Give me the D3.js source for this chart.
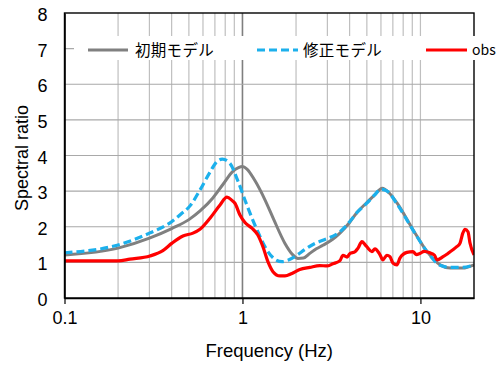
<!DOCTYPE html>
<html>
<head>
<meta charset="utf-8">
<script src="https://cdn.jsdelivr.net/npm/d3@7"></script>
<style>
  html, body { margin: 0; padding: 0; background: #fff; }
  svg { display: block; }
</style>
</head>
<body>
<svg id="chart" width="500" height="365"></svg>
<script>
// Spectral ratio vs frequency: initial model, revised model and observation
const xTickValues = [0.1, 1, 10];
const xTickLabels = ["0.1", "1", "10"];
const yTickValues = [0, 1, 2, 3, 4, 5, 6, 7, 8];
const seriesNames = ["初期モデル", "修正モデル", "obs"];

const freqInit = [0.1, 0.2, 0.3, 0.4, 0.5, 0.58, 0.68, 0.78, 0.88, 0.95, 1.0, 1.06, 1.17, 1.34, 1.5, 1.73, 1.92, 2.05, 2.2, 2.4, 2.6, 2.83, 3.2, 3.53, 4.0, 4.4, 5.0, 5.5, 6.1, 6.7, 7.4, 9.1, 10.9, 12.9, 14.7, 17.3, 20];
const valInit  = [1.21, 1.40, 1.68, 1.95, 2.20, 2.45, 2.80, 3.20, 3.55, 3.66, 3.69, 3.62, 3.31, 2.75, 2.20, 1.54, 1.21, 1.11, 1.12, 1.26, 1.38, 1.48, 1.64, 1.82, 2.12, 2.40, 2.68, 2.88, 3.08, 2.94, 2.66, 1.91, 1.30, 0.93, 0.84, 0.84, 0.93];

const freqMod = [0.1, 0.2, 0.3, 0.4, 0.45, 0.51, 0.58, 0.66, 0.71, 0.77, 0.85, 0.94, 1.06, 1.21, 1.37, 1.52, 1.67, 1.8, 2.02, 2.24, 2.55, 2.83, 3.53, 4.0, 4.4, 5.0, 5.5, 6.0, 6.5, 7.4, 9.1, 10.9, 12.9, 14.7, 17.3, 20];
const valMod  = [1.27, 1.49, 1.82, 2.14, 2.35, 2.60, 3.05, 3.55, 3.80, 3.90, 3.78, 3.30, 2.60, 1.90, 1.35, 1.09, 1.02, 1.06, 1.20, 1.36, 1.53, 1.62, 1.86, 2.14, 2.40, 2.66, 2.88, 3.05, 3.00, 2.63, 1.90, 1.30, 0.92, 0.86, 0.86, 0.93];

const freqObs = [0.1, 0.2, 0.233, 0.302, 0.357, 0.402, 0.463, 0.527, 0.577, 0.657, 0.748, 0.818, 0.873, 0.907, 0.968, 1.033, 1.13, 1.22, 1.303, 1.39, 1.484, 1.624, 1.733, 1.897, 2.1, 2.39, 2.72, 2.98, 3.22, 3.53, 3.67, 3.87, 4.02, 4.29, 4.46, 4.69, 4.88, 5.07, 5.34, 5.55, 5.92, 6.15, 6.48, 6.74, 7.01, 7.38, 7.67, 8.4, 9.07, 9.5, 9.93, 10.5, 11.3, 12.0, 12.4, 13.4, 14.0, 14.7, 15.3, 16.0, 16.7, 17.3, 17.8, 18.5, 19.0, 20];
const valObs  = [1.04, 1.04, 1.09, 1.18, 1.33, 1.54, 1.74, 1.82, 1.93, 2.24, 2.61, 2.83, 2.74, 2.66, 2.33, 2.12, 1.96, 1.77, 1.44, 1.02, 0.74, 0.62, 0.62, 0.69, 0.80, 0.86, 0.91, 0.90, 0.96, 1.05, 1.20, 1.15, 1.25, 1.30, 1.40, 1.58, 1.50, 1.40, 1.30, 1.38, 1.22, 1.07, 1.20, 1.16, 0.98, 0.93, 1.12, 1.28, 1.30, 1.22, 1.25, 1.31, 1.27, 1.20, 1.07, 1.16, 1.22, 1.30, 1.36, 1.44, 1.54, 1.82, 1.93, 1.86, 1.54, 1.21];

const colors = ["#808080", "#1cb0ec", "#ff0000"];

const svg = d3.select("#chart");
const plotL = 64.5, plotR = 474, plotT = 13, plotB = 298;

const x = d3.scaleLog().domain([0.1, 20]).range([plotL, plotR]);
const y = d3.scaleLinear().domain([0, 8]).range([plotB, plotT]);

// vertical grid: every 1-2-3... step of the log scale
const gridX = x.ticks().filter(d => d > 0.1 && d < 20);
svg.append("g").selectAll("line").data(gridX).join("line")
  .attr("x1", d => x(d)).attr("x2", d => x(d))
  .attr("y1", plotT).attr("y2", plotB)
  .attr("stroke", d => Math.abs(d - 1) < 1e-9 ? "#7f7f7f" : "#bfbfbf")
  .attr("stroke-width", d => Math.abs(d - 1) < 1e-9 ? 1.6 : 1.2);

// horizontal grid
svg.append("g").selectAll("line").data(yTickValues.filter(d => d > 0 && d < 8)).join("line")
  .attr("x1", plotL).attr("x2", plotR)
  .attr("y1", d => y(d)).attr("y2", d => y(d))
  .attr("stroke", "#a9a9a9").attr("stroke-width", 1.2);

// series
svg.append("clipPath").attr("id", "plotclip")
  .append("rect").attr("x", plotL).attr("y", plotT).attr("width", plotR - plotL).attr("height", plotB - plotT);

const line = d3.line().x(d => x(d[0])).y(d => y(d[1])).curve(d3.curveMonotoneX);
const series = [
  { pts: d3.zip(freqInit, valInit), color: colors[0], dash: null, width: 3 },
  { pts: d3.zip(freqMod, valMod), color: colors[1], dash: "8,4", width: 3.2 },
  { pts: d3.zip(freqObs, valObs), color: colors[2], dash: null, width: 3.2 }
];
const plot = svg.append("g").attr("clip-path", "url(#plotclip)");
series.forEach(s => {
  plot.append("path").datum(s.pts)
    .attr("d", line)
    .attr("fill", "none")
    .attr("stroke", s.color)
    .attr("stroke-width", s.width)
    .attr("stroke-linejoin", "round")
    .attr("stroke-dasharray", s.dash);
});

// frame
svg.append("rect").attr("x", plotL).attr("y", plotT)
  .attr("width", plotR - plotL).attr("height", plotB - plotT)
  .attr("fill", "none").attr("stroke", "#000").attr("stroke-width", 1.4);

// axes
const axisFont = "'Liberation Sans', Arial, sans-serif";
const xAxis = svg.append("g").attr("transform", `translate(0,${plotB})`)
  .call(d3.axisBottom(x).tickValues(xTickValues)
    .tickFormat((d, i) => xTickLabels[i]).tickSize(6).tickSizeOuter(0).tickPadding(7));
xAxis.select(".domain").attr("stroke", "#000").attr("stroke-width", 1.6);
xAxis.selectAll(".tick line").attr("stroke", "#000").attr("stroke-width", 1.2);
xAxis.selectAll("text").attr("font-family", axisFont).attr("font-size", 18).attr("fill", "#000");

const yAxis = svg.append("g").attr("transform", `translate(${plotL},0)`)
  .call(d3.axisLeft(y).tickValues(yTickValues).tickSize(0).tickPadding(17));
yAxis.select(".domain").attr("stroke", "#000").attr("stroke-width", 1.6);
yAxis.selectAll("text").attr("font-family", axisFont).attr("font-size", 18).attr("fill", "#000")
  .attr("dy", "0.42em");

svg.append("text").attr("x", (plotL + plotR) / 2).attr("y", 357)
  .attr("text-anchor", "middle").attr("font-family", axisFont).attr("font-size", 18.5)
  .attr("fill", "#000")
  .text("Frequency (Hz)");
svg.append("text").attr("transform", "translate(28,158) rotate(-90)")
  .attr("text-anchor", "middle").attr("font-family", axisFont).attr("font-size", 18)
  .attr("fill", "#000")
  .text("Spectral ratio");

// legend
const legend = svg.append("g");
legend.append("rect").attr("x", 74).attr("y", 36).attr("width", 426).attr("height", 24).attr("fill", "#fff");
const legendItems = [
  { x0: 88, x1: 128, tx: 135 },
  { x0: 257, x1: 298, tx: 303 },
  { x0: 426, x1: 467, tx: 472 }
];
legendItems.forEach((it, i) => {
  legend.append("line").attr("x1", it.x0).attr("x2", it.x1).attr("y1", 50).attr("y2", 50)
    .attr("stroke", series[i].color).attr("stroke-width", series[i].width)
    .attr("stroke-dasharray", series[i].dash);
  legend.append("text").attr("x", it.tx).attr("y", 50).attr("dy", "0.36em")
    .attr("font-family", "'Noto Sans CJK JP', sans-serif")
    .attr("font-size", i === 2 ? 14 : 15.5).attr("fill", "#000")
    .attr("letter-spacing", i === 2 ? 0 : 0.3)
    .text(seriesNames[i]);
});
</script>
</body>
</html>
